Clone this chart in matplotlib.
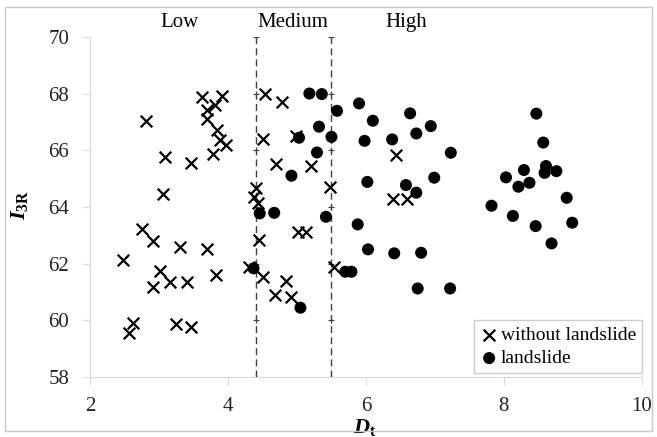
import matplotlib.pyplot as plt
from matplotlib.patches import Rectangle

plt.rcParams['font.family'] = ['Liberation Serif', 'DejaVu Serif']
plt.rcParams['mathtext.fontset'] = 'custom'
plt.rcParams['mathtext.rm'] = 'Liberation Serif'
plt.rcParams['mathtext.it'] = 'Liberation Serif:italic:bold'
plt.rcParams['mathtext.bf'] = 'Liberation Serif:bold'

# without landslide (x markers)
no_dt = [3.62, 3.92, 3.81, 3.69, 3.69, 3.84, 3.88, 3.97, 3.78, 2.81,
         3.09, 3.46, 3.06, 2.75, 2.91, 3.30, 3.70, 2.48, 3.01, 2.92,
         3.16, 3.40, 3.83, 2.63, 2.56, 3.25, 3.47, 4.31, 4.40, 4.37,
         4.44, 4.54, 4.78, 4.51, 4.99, 4.69, 5.21, 5.48, 4.45, 5.02,
         5.13, 4.51, 4.84, 4.68, 4.92, 5.53, 6.44, 6.39, 6.59]
no_i3r = [67.89, 67.92, 67.60, 67.42, 67.10, 66.72, 66.37, 66.19, 65.87, 67.04,
          65.78, 65.56, 64.48, 63.22, 62.81, 62.60, 62.51, 62.15, 61.75, 61.19,
          61.36, 61.36, 61.60, 59.90, 59.56, 59.87, 59.78, 61.90, 64.68, 64.36,
          64.13, 67.98, 67.72, 66.40, 66.51, 65.51, 65.45, 64.72, 62.85, 63.13,
          63.13, 61.54, 61.40, 60.89, 60.83, 61.89, 65.84, 64.27, 64.27]

# landslide (dots)
ls_dt = [4.37, 5.18, 5.36, 5.58, 5.90, 6.10, 5.03, 5.32, 5.50, 5.98,
         5.29, 4.92, 6.02, 4.46, 4.67, 5.42, 5.88, 5.05, 5.70, 5.79,
         6.03, 6.64, 6.94, 6.73, 6.38, 7.23, 6.99, 6.58, 6.73, 7.82,
         6.41, 6.80, 6.75, 7.22, 8.03, 8.29, 8.21, 8.37, 8.61, 8.59,
         8.76, 8.91, 8.13, 8.46, 8.99, 8.69, 8.47, 8.57]
ls_i3r = [61.84, 68.01, 67.99, 67.40, 67.66, 67.05, 66.45, 66.84, 66.48, 66.34,
          65.93, 65.11, 64.89, 63.78, 63.80, 63.66, 63.39, 60.45, 61.72, 61.72,
          62.51, 67.31, 66.86, 66.60, 66.39, 65.92, 65.04, 64.78, 64.51, 64.05,
          62.37, 62.39, 61.13, 61.13, 65.05, 65.31, 64.72, 64.86, 65.45, 65.21,
          65.27, 64.33, 63.69, 63.33, 63.45, 62.72, 67.30, 66.28]

bounds = [4.4, 5.5]
zones = ['Low', 'Medium', 'High']
zone_x = [3.30, 4.94, 6.59]
y_ticks = [58, 60, 62, 64, 66, 68, 70]

fig = plt.figure(figsize=(6.57, 4.37), dpi=100)
ax = fig.add_axes([0.137, 0.137, 0.840, 0.778])

# zone boundaries
for b in bounds:
    ax.plot([b] * len(y_ticks), y_ticks, color='#404040', lw=1.0,
            ls=(0, (5, 3)), marker='+', markersize=5, mew=0.8, zorder=1)

ax.scatter(no_dt, no_i3r, marker='x', s=70, color='black', linewidths=1.6,
           label='without landslide', zorder=3)
ax.scatter(ls_dt, ls_i3r, marker='o', s=75, color='black', edgecolors='none',
           label='landslide', zorder=3)

for name, zx in zip(zones, zone_x):
    ax.text(zx, 70.5, name, ha='center', va='center', fontsize=15, clip_on=False)

ax.set_xlim(2, 10)
ax.set_ylim(58, 70)
ax.set_xticks([2, 4, 6, 8, 10])
ax.set_yticks(y_ticks)
for s in ['top', 'right']:
    ax.spines[s].set_visible(False)
for s in ['left', 'bottom']:
    ax.spines[s].set_color('#d9d9d9')
ax.tick_params(colors='#d9d9d9', labelcolor='#222222', length=6, labelsize=15)
ax.tick_params(axis='y', pad=9)
ax.tick_params(axis='x', pad=8)

ax.set_xlabel(r'$D_{\mathbf{t}}$', fontsize=16)
ax.xaxis.set_label_coords(0.498, -0.118)
ax.set_ylabel(r'$I_{\mathbf{3R}}$', fontsize=16)
ax.yaxis.set_label_coords(-0.109, 0.506)

leg = ax.legend(loc='lower right', bbox_to_anchor=(1.0, 0.012), borderaxespad=0,
                fontsize=14, handletextpad=0.1, handlelength=1.0,
                labelspacing=0.3, borderpad=0.3, fancybox=False, frameon=True)
leg.get_frame().set_edgecolor('#bfbfbf')
leg.get_frame().set_linewidth(1.0)

fig.patches.append(Rectangle((0.0076, 0.0137), 0.985, 0.970, transform=fig.transFigure,
                             fill=False, edgecolor='#c8c8c8', lw=1.0))

plt.savefig('out.png', dpi=100)
